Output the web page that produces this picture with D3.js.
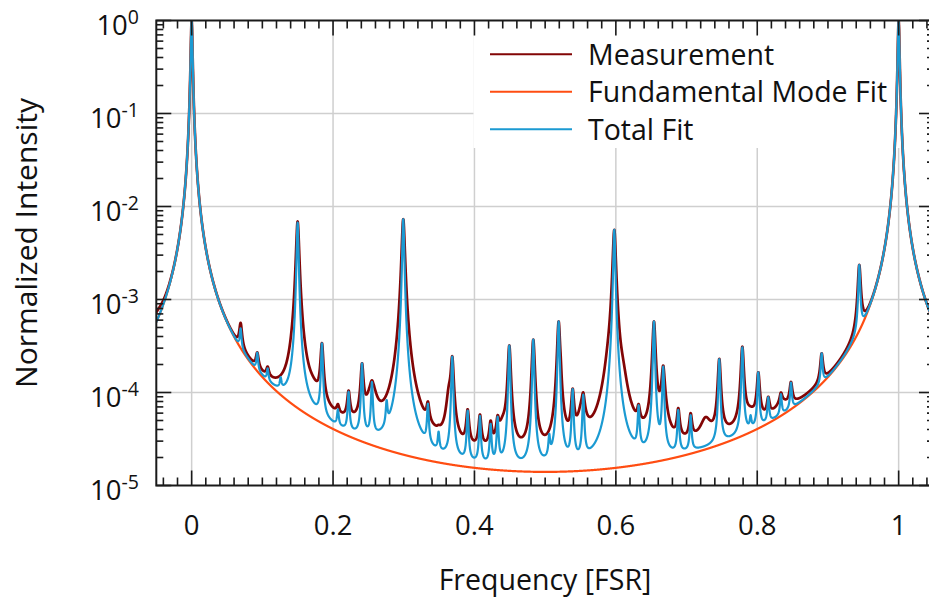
<!DOCTYPE html>
<html><head><meta charset="utf-8">
<script src="https://cdn.jsdelivr.net/npm/d3@7"></script>
<style>
html,body{margin:0;padding:0;background:#fff;}
svg{display:block;font-family:"Open Sans",sans-serif;}
</style></head>
<body><svg id="chart" width="929" height="600"></svg>
<script>
// ---------- data ----------
// Fundamental (Airy) mode: finesse coefficient so that the floor at 0.5 FSR is ~1.4e-5
const fundamentalCoef = 71400;
// Higher-order transverse modes: position [FSR] and height of the total fit at the peak
const modeFreq = [0.0693,0.0928,0.1075,0.1259,0.1499,0.1843,0.2069,0.2220,0.2410,0.2550,
  0.2758,0.2993,0.3342,0.3493,0.3686,0.3904,0.4078,0.4229,0.4328,0.4493,
  0.4832,0.5058,0.5191,0.5389,0.5539,0.5978,0.6322,0.6539,0.6670,0.6883,
  0.7058,0.7463,0.7789,0.7906,0.8015,0.8156,0.8335,0.8477,0.8911,0.9443];
const fitHeight = [4.9e-4,2.68e-4,1.82e-4,1.46e-4,6.7e-3,3.38e-4,6.6e-5,1.02e-4,2.06e-4,1.3e-4,
  8.3e-5,7.3e-3,7.6e-5,3.8e-5,2.43e-4,6.4e-5,5.6e-5,4.6e-5,5.5e-5,3.2e-4,
  3.7e-4,3.6e-5,5.8e-4,1.09e-4,9.5e-5,5.6e-3,7.3e-5,5.8e-4,1.9e-4,6.5e-5,
  5.7e-5,2.28e-4,3.06e-4,5.7e-5,1.65e-4,8.9e-5,9.6e-5,1.28e-4,2.64e-4,2.35e-3];
const measHeight = [5.6e-4,2.7e-4,1.9e-4,1.5e-4,6.9e-3,3.4e-4,7.5e-5,1.05e-4,2.06e-4,1.35e-4,
  9.0e-5,7.3e-3,8.0e-5,4.5e-5,2.45e-4,6.6e-5,5.8e-5,5.0e-5,5.7e-5,3.2e-4,
  3.7e-4,4.0e-5,5.8e-4,1.1e-4,1.0e-4,5.6e-3,7.5e-5,5.8e-4,1.95e-4,6.8e-5,
  6.0e-5,2.3e-4,3.1e-4,6.0e-5,1.65e-4,9.0e-5,1.0e-4,1.3e-4,2.64e-4,2.35e-3];
const fitLinewidth = 0.0013;      // half width of each fitted mode [FSR]
const measLinewidth = 0.0021;     // measured modes appear broader
// broad extra features present only in the measurement
const bumpFreq   = [-0.050, 0.172, 0.255, 0.364, 0.440, 0.522, 0.552, 0.590, 0.610, 0.667, 0.727, 0.790, 0.835];
const bumpHeight = [1.5e-4, 2.0e-5, 7.0e-5, 6.0e-5, 1.8e-5, 3.0e-5, 3.5e-5, 6.0e-5, 5.0e-5, 5.0e-5, 2.0e-5, 1.5e-5, 1.5e-5];
const bumpWidth  = [0.012, 0.010, 0.007, 0.004, 0.007, 0.0012, 0.006, 0.006, 0.006, 0.005, 0.008, 0.010, 0.010];
const measFloor = 3e-6;

const xTickLabels = ["0","0.2","0.4","0.6","0.8","1"];
const yTickExponents = [0,-1,-2,-3,-4,-5];
const legendLabels = ["Measurement","Fundamental Mode Fit","Total Fit"];
const colors = ["#820505","#ff4d12","#1b9ad2"];

// ---------- models ----------
const airy = f => 1/(1 + fundamentalCoef*Math.sin(Math.PI*f)**2);
const lor = (f,f0,w) => 1/(1+((f-f0)/w)**2);
function solveAmps(heights, w, base){
  let A = heights.map((h,i)=>Math.max(0,h-base(modeFreq[i])));
  for(let it=0;it<60;it++){
    A = heights.map((h,i)=>{
      let s = base(modeFreq[i]);
      for(let j=0;j<A.length;j++) if(j!==i) s += A[j]*lor(modeFreq[i],modeFreq[j],w);
      return Math.max(0,h-s);
    });
  }
  return A;
}
const measBase = f => airy(f) + measFloor + bumpFreq.reduce((s,b,k)=>s+bumpHeight[k]*lor(f,b,bumpWidth[k]),0);
const fitA = solveAmps(fitHeight, fitLinewidth, airy);
const measA = solveAmps(measHeight, measLinewidth, measBase);
const fitTotal = f => airy(f) + modeFreq.reduce((s,m,i)=>s+fitA[i]*lor(f,m,fitLinewidth),0);
const measTotal = f => measBase(f) + modeFreq.reduce((s,m,i)=>s+measA[i]*lor(f,m,measLinewidth),0);

let fs = d3.range(-520, 10520).map(i=>i/10000).concat(modeFreq).concat([0,1]);
fs.sort((a,b)=>a-b);

// ---------- chart ----------
const svg = d3.select("#chart");
const L=156.3, R=934.0, T=20.5, B=485.5;
const x = d3.scaleLinear().domain([-0.05,1.05]).range([L,R]);
const y = d3.scaleLog().domain([1e-5,1]).range([B,T]);
svg.append("rect").attr("width",929).attr("height",600).attr("fill","#fff");
svg.append("defs").append("clipPath").attr("id","clip").append("rect")
  .attr("x",L).attr("y",T).attr("width",R-L).attr("height",B-T);

// grid
const gridG = svg.append("g").attr("stroke","#cfcfcf").attr("stroke-width",1.5);
[0,0.2,0.4,0.6,0.8,1].forEach(v=>gridG.append("line").attr("x1",x(v)).attr("x2",x(v)).attr("y1",T).attr("y2",B));
[-1,-2,-3,-4].forEach(e=>gridG.append("line").attr("x1",L).attr("x2",R).attr("y1",y(10**e)).attr("y2",y(10**e)));

// legend background
svg.append("rect").attr("x",473.5).attr("y",23).attr("width",929-473.5).attr("height",125).attr("fill","#fff");

// curves
const line = d3.line().x(d=>x(d[0])).y(d=>y(Math.max(1e-6,d[1])));
const plotG = svg.append("g").attr("clip-path","url(#clip)").attr("fill","none").attr("stroke-linejoin","round");
plotG.append("path").datum(fs.map(f=>[f,measTotal(f)])).attr("d",line).attr("stroke",colors[0]).attr("stroke-width",2.7);
plotG.append("path").datum(fs.map(f=>[f,airy(f)])).attr("d",line).attr("stroke",colors[1]).attr("stroke-width",2.2);
plotG.append("path").datum(fs.map(f=>[f,fitTotal(f)])).attr("d",line).attr("stroke",colors[2]).attr("stroke-width",2.2);

// axes frame and ticks
const axG = svg.append("g").attr("stroke","#1a1a1a");
const xt = d3.range(-2,53).map(i=>({v:i*0.02,major:i%10===0}));
xt.forEach(t=>{
  const len = t.major?15:8, px=x(t.v);
  axG.append("line").attr("x1",px).attr("x2",px).attr("y1",B).attr("y2",B-len).attr("stroke-width",1.6);
  axG.append("line").attr("x1",px).attr("x2",px).attr("y1",T).attr("y2",T+len).attr("stroke-width",1.6);
});
const yt=[];
[-5,-4,-3,-2,-1].forEach(e=>{ for(let m=1;m<10;m++) yt.push({v:m*10**e,major:m===1}); });
yt.push({v:1,major:true});
yt.forEach(t=>{
  const len=t.major?15:7, py=y(t.v);
  axG.append("line").attr("x1",L).attr("x2",L+len).attr("y1",py).attr("y2",py).attr("stroke-width",1.6);
  axG.append("line").attr("x1",R).attr("x2",R-len).attr("y1",py).attr("y2",py).attr("stroke-width",1.6);
});
axG.append("rect").attr("x",L).attr("y",T).attr("width",R-L).attr("height",B-T).attr("fill","none").attr("stroke-width",2);

// tick labels
xTickLabels.forEach(s=>{
  svg.append("text").attr("x",x(+s)).attr("y",535).attr("text-anchor","middle")
    .attr("font-size",27.5).attr("fill","#111").text(s);
});
yTickExponents.forEach(e=>{
  const t = svg.append("text").attr("x",139).attr("y",y(10**e)+14).attr("text-anchor","end")
    .attr("font-size",27.5).attr("fill","#111");
  t.append("tspan").text("10");
  t.append("tspan").attr("font-size",19.5).attr("dy",-11).text(String(e));
});
// axis titles
svg.append("text").attr("transform","translate(37,243) rotate(-90)").attr("text-anchor","middle")
  .attr("font-size",30).attr("fill","#111").text("Normalized Intensity");
svg.append("text").attr("x",545).attr("y",590).attr("text-anchor","middle")
  .attr("font-size",28.5).attr("fill","#111").text("Frequency [FSR]");

// legend
legendLabels.forEach((s,i)=>{
  const ly = 54.3 + i*37.5;
  svg.append("line").attr("x1",490).attr("x2",572).attr("y1",ly).attr("y2",ly).attr("stroke",colors[i]).attr("stroke-width",2);
  svg.append("text").attr("x",588).attr("y",ly+10.5).attr("font-size",28.5).attr("fill","#111").text(s);
});
</script></body></html>
